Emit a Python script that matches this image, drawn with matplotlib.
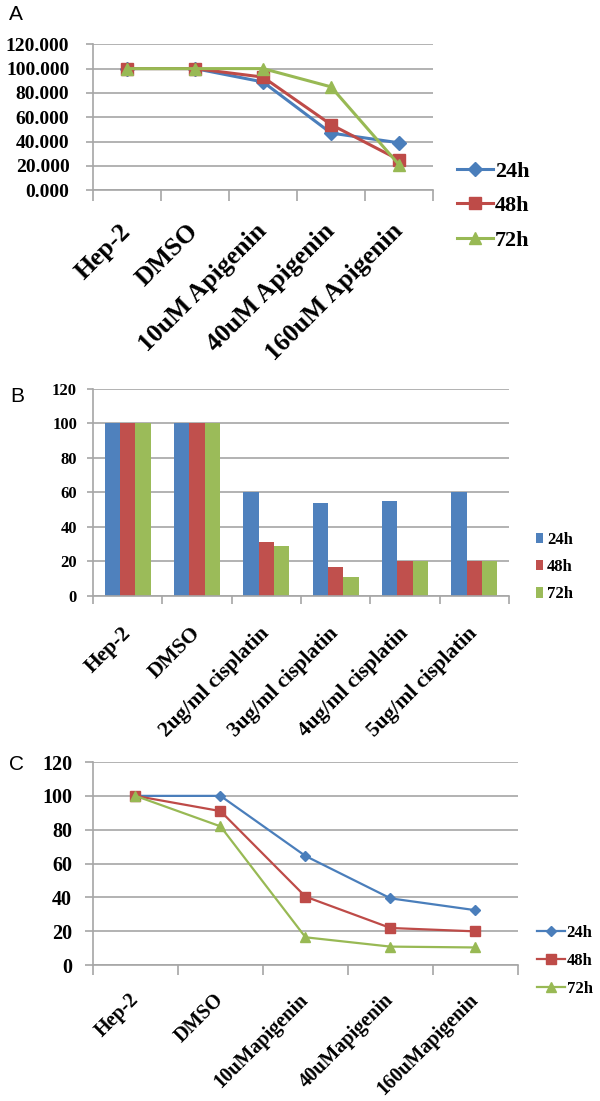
import matplotlib
matplotlib.use("Agg")
import matplotlib.pyplot as plt
import numpy as np

# Panel A: apigenin, line chart
a_cats = ["Hep-2", "DMSO", "10uM Apigenin", "40uM Apigenin", "160uM Apigenin"]
a_24h = [100, 100, 89, 47, 39]
a_48h = [100, 100, 93, 54, 25]
a_72h = [100, 100, 100, 85, 21]

# Panel B: cisplatin, bar chart
b_cats = ["Hep-2", "DMSO", "2ug/ml cisplatin", "3ug/ml cisplatin",
          "4ug/ml cisplatin", "5ug/ml cisplatin"]
b_24h = [100, 100, 60, 54, 55, 60]
b_48h = [100, 100, 31, 16.5, 20, 20]
b_72h = [100, 100, 29, 11, 20, 20]

# Panel C: apigenin, line chart
c_cats = ["Hep-2", "DMSO", "10uMapigenin", "40uMapigenin", "160uMapigenin"]
c_24h = [100, 100, 64.5, 39.5, 32.5]
c_48h = [100, 91, 40.5, 22, 20]
c_72h = [100, 82, 16.5, 11, 10.5]

series_names = ["24h", "48h", "72h"]
BLUE, RED, GREEN = "#4a7ebb", "#be4b48", "#98b954"
BAR_COLS = ["#4f81bd", "#c0504d", "#9bbb59"]
GRID = "#a6a6a6"
SERIF = "Liberation Serif"

fig = plt.figure(figsize=(6, 11.01), dpi=100)


def style_axes(ax, ncat, ytick_size, ypad, ylen, xlen, fmt):
    ax.set_xlim(-0.5, ncat - 0.5)
    ax.set_ylim(0, 120)
    ax.set_yticks(np.arange(0, 121, 20))
    ax.yaxis.set_major_formatter(matplotlib.ticker.FormatStrFormatter(fmt))
    ax.grid(axis="y", color=GRID, linewidth=1.2, zorder=0)
    ax.set_axisbelow(True)
    for s in ["top", "right"]:
        ax.spines[s].set_visible(False)
    for s in ["left", "bottom"]:
        ax.spines[s].set_color(GRID)
        ax.spines[s].set_linewidth(1.2)
    ax.tick_params(axis="y", length=ylen, color=GRID, width=1.2, pad=ypad)
    # category boundary ticks
    ax.set_xticks(np.arange(-0.5, ncat, 1.0), minor=True)
    ax.tick_params(axis="x", which="minor", length=xlen, color=GRID, width=1.2)
    ax.tick_params(axis="x", which="major", length=0)
    for lab in ax.get_yticklabels():
        lab.set_fontfamily(SERIF)
        lab.set_fontweight("bold")
        lab.set_fontsize(ytick_size)


def set_xlabels(ax, cats, size, pad):
    ax.set_xticks(np.arange(len(cats)))
    ax.set_xticklabels(cats, rotation=45, ha="right", va="center",
                       rotation_mode="anchor", fontfamily=SERIF,
                       fontweight="bold", fontsize=size)
    ax.tick_params(axis="x", which="major", pad=pad)


# ---------------- Panel A ----------------
axA = fig.add_axes([0.155, 0.8272, 0.5667, 0.1326])
xa = np.arange(len(a_cats))
axA.plot(xa, a_24h, color=BLUE, marker="D", markersize=7, linewidth=2.2, label="24h")
axA.plot(xa, a_48h, color=RED, marker="s", markersize=8.5, linewidth=2.2, label="48h")
axA.plot(xa, a_72h, color=GREEN, marker="^", markersize=9, linewidth=2.2, label="72h")
style_axes(axA, len(a_cats), 14, 12, 5, 8, "%.3f")
set_xlabels(axA, a_cats, 18.5, 27)
axA.legend(loc="center left", bbox_to_anchor=(0.762, 0.8129),
           bbox_transform=fig.transFigure, frameon=False,
           prop={"family": SERIF, "weight": "bold", "size": 16},
           handlelength=1.6, handletextpad=0.1, labelspacing=0.62,
           borderaxespad=0, borderpad=0)

# ---------------- Panel B ----------------
axB = fig.add_axes([0.155, 0.4589, 0.6933, 0.1878])
xb = np.arange(len(b_cats))
w = 0.22
for i, (vals, name) in enumerate(zip([b_24h, b_48h, b_72h], series_names)):
    axB.bar(xb + (i - 1) * w, vals, width=w, color=BAR_COLS[i], label=name, zorder=2)
style_axes(axB, len(b_cats), 12, 7.5, 4, 6, "%d")
set_xlabels(axB, b_cats, 15.5, 25)
axB.legend(loc="center left", bbox_to_anchor=(0.893, 0.485),
           bbox_transform=fig.transFigure, frameon=False,
           prop={"family": SERIF, "weight": "bold", "size": 12},
           handlelength=0.42, handleheight=0.6, handletextpad=0.24,
           labelspacing=0.67, borderaxespad=0, borderpad=0)

# ---------------- Panel C ----------------
axC = fig.add_axes([0.155, 0.1233, 0.7083, 0.1846])
xc = np.arange(len(c_cats))
axC.plot(xc, c_24h, color=BLUE, marker="D", markersize=5.5, linewidth=1.6, label="24h")
axC.plot(xc, c_48h, color=RED, marker="s", markersize=7, linewidth=1.6, label="48h")
axC.plot(xc, c_72h, color=GREEN, marker="^", markersize=7.5, linewidth=1.6, label="72h")
style_axes(axC, len(c_cats), 14.5, 9, 6, 7, "%d")
set_xlabels(axC, c_cats, 14.5, 23)
axC.legend(loc="center left", bbox_to_anchor=(0.895, 0.1272),
           bbox_transform=fig.transFigure, frameon=False,
           prop={"family": SERIF, "weight": "bold", "size": 12},
           handlelength=1.68, handletextpad=0.1, labelspacing=0.73,
           borderaxespad=0, borderpad=0)

# panel letters
for letter, (px, py) in zip("ABC", [(15.5, 15), (17.5, 396.5), (17, 765)]):
    fig.text(px / 600, 1 - py / 1101, letter, fontsize=15,
             fontfamily="Liberation Sans", ha="center", va="center")

fig.savefig("out.png", dpi=100)
